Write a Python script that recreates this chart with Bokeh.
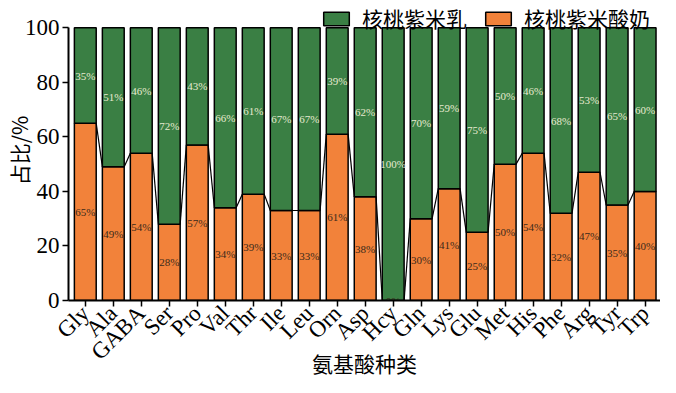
import numpy as np
from bokeh.plotting import figure
from bokeh.models import Range1d, ColumnDataSource, FixedTicker, Legend, LegendItem
from bokeh.embed import file_html
from bokeh.resources import INLINE
from bokeh.core.properties import value

categories = ["Gly", "Ala", "GABA", "Ser", "Pro", "Val", "Thr", "Ile", "Leu", "Orn", "Asp",
              "Hcy", "Gln", "Lys", "Glu", "Met", "His", "Phe", "Arg", "Tyr", "Trp"]
yogurt = [65, 49, 54, 28, 57, 34, 39, 33, 33, 61, 38, 0, 30, 41, 25, 50, 54, 32, 47, 35, 40]
milk = [35, 51, 46, 72, 43, 66, 61, 67, 67, 39, 62, 100, 70, 59, 75, 50, 46, 68, 53, 65, 60]
yticks = [0, 20, 40, 60, 80, 100]
series_names = ["核桃紫米乳", "核桃紫米酸奶"]
x_title = "氨基酸种类"
y_title = "占比/%"

GREEN = "#3a7f44"
ORANGE = "#f2823a"
FONT = "'Liberation Serif', 'Noto Sans CJK SC', serif"
CJK = "'Noto Sans CJK SC', 'Liberation Serif', serif"
W = 0.78

HEIGHT = 385
BOTTOM = 85
FH = HEIGHT - BOTTOM

n = len(categories)
xs = np.arange(n)
yog = np.array(yogurt, dtype=float)
mlk = np.array(milk, dtype=float)

src = ColumnDataSource(dict(
    x=xs, yog=yog, top=yog + mlk,
    yog_mid=yog / 2, milk_mid=yog + mlk / 2,
    yog_lab=[f"{int(v)}%" for v in yogurt],
    milk_lab=[f"{int(v)}%" for v in milk],
))

p = figure(width=660, height=HEIGHT, output_backend="svg", toolbar_location=None,
           x_range=Range1d(-0.6, 20.55), y_range=Range1d(0, 110),
           min_border_left=63, min_border_right=0, min_border_top=0,
           min_border_bottom=BOTTOM)
p.outline_line_color = None
p.xgrid.visible = False
p.ygrid.visible = False

r_yog = p.vbar(x="x", bottom=0, top="yog", width=W, source=src,
               fill_color=ORANGE, line_color="black", line_width=1.5)
r_milk = p.vbar(x="x", bottom="yog", top="top", width=W, source=src,
                fill_color=GREEN, line_color="black", line_width=1.5)

# series lines between orange tops
p.segment(x0=xs[:-1] + W / 2, y0=yog[:-1], x1=xs[1:] - W / 2, y1=yog[1:],
          line_color="black", line_width=1.2)

p.text(x="x", y="yog_mid", text="yog_lab", source=src, text_font=value("Liberation Serif"),
       text_font_size="11px", text_color="#3a2a1a", text_align="center", text_baseline="middle")
p.text(x="x", y="milk_mid", text="milk_lab", source=src, text_font=value("Liberation Serif"),
       text_font_size="11px", text_color="#e6ead0", text_align="center", text_baseline="middle")

p.xaxis.ticker = FixedTicker(ticks=list(xs))
p.xaxis.major_label_overrides = {int(i): c for i, c in zip(xs, categories)}
p.xaxis.major_label_orientation = np.pi / 4
p.yaxis.ticker = FixedTicker(ticks=yticks)
p.yaxis.bounds = (0, 100)

for ax in (p.xaxis, p.yaxis):
    ax.axis_line_width = 2
    ax.axis_line_color = "black"
    ax.major_tick_line_width = 1.5
    ax.major_tick_line_color = "black"
    ax.major_tick_out = 6
    ax.major_tick_in = 0
    ax.minor_tick_line_color = None
    ax.major_label_text_font = FONT
    ax.major_label_text_font_size = "23px"
    ax.major_label_text_color = "black"
    ax.axis_label_text_font = CJK
    ax.axis_label_text_font_size = "21px"
    ax.axis_label_text_font_style = "normal"
    ax.axis_label_text_color = "black"
    ax.major_label_standoff = 3

p.xaxis.axis_label = x_title
p.yaxis.axis_label = y_title
p.xaxis.axis_label_standoff = -28
p.yaxis.axis_label_standoff = -12

legend = Legend(items=[LegendItem(label=series_names[0], renderers=[r_milk]),
                       LegendItem(label=series_names[1], renderers=[r_yog])],
                location=(252, FH - 33), orientation="horizontal",
                glyph_width=32, glyph_height=17, label_standoff=10, spacing=15,
                padding=0, margin=0, border_line_color=None, background_fill_alpha=0,
                label_text_font=CJK, label_text_font_size="21px", label_text_color="black",
                label_height=17)
p.add_layout(legend, "center")

html = file_html(p, INLINE)
open("out.html", "w").write(html)
